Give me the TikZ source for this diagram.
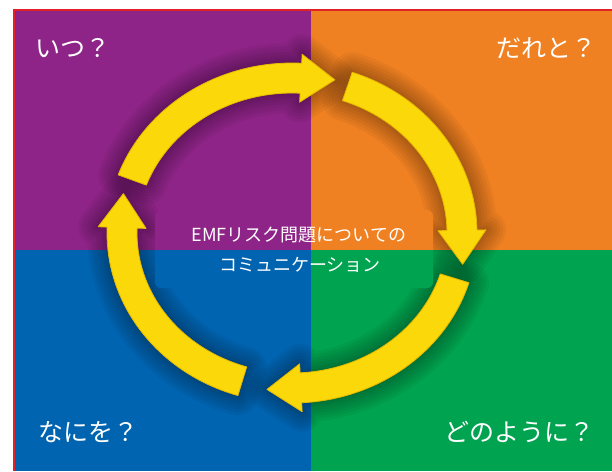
\documentclass[tikz,border=0pt]{standalone}
\usepackage{fontspec}
\newfontfamily\jp{Noto Sans CJK JP}
\definecolor{qpurple}{HTML}{8E2487}
\definecolor{qorange}{HTML}{F08122}
\definecolor{qblue}{HTML}{0064B0}
\definecolor{qgreen}{HTML}{00A34F}
\definecolor{ayellow}{HTML}{FAD80A}
\definecolor{aedge}{HTML}{E6B800}
\definecolor{frame}{HTML}{E02228}
\newcommand\ringarrow[3]{%
  \pgfmathsetmacro\tnx{1.70*sin(#2)}%
  \pgfmathsetmacro\tny{1.55*cos(#2)}%
  \pgfmathsetmacro\tnn{sqrt(\tnx*\tnx+\tny*\tny)}%
  \pgfmathsetmacro\tipx{292+170*cos(#2)+34*\tnx/\tnn}%
  \pgfmathsetmacro\tipy{233-155*sin(#2)+34*\tny/\tnn}%
  \path[#3] plot[domain=#1:#2,samples=40] ({292+185*cos(\x)},{233-170*sin(\x)})
    -- ({292+194*cos(#2)},{233-179*sin(#2)}) -- (\tipx,\tipy)
    -- ({292+146*cos(#2)},{233-131*sin(#2)})
    -- plot[domain=#2:#1,samples=40] ({292+155*cos(\x)},{233-140*sin(\x)}) -- cycle;%
}
\newcommand\allarrows[1]{%
  \ringarrow{160}{87}{#1}%
  \ringarrow{71}{1}{#1}%
  \ringarrow{-17}{-87}{#1}%
  \ringarrow{-107}{-182}{#1}%
}
\newcommand\quads{%
  \fill[qpurple] (14,10) rectangle (311,250);
  \fill[qorange] (311,10) rectangle (612,250);
  \fill[qblue] (14,250) rectangle (311,471);
  \fill[qgreen] (311,250) rectangle (612,471);
}
\tikzset{
  shadowstroke/.style={draw=black, line join=round, draw opacity=0.045, fill=none},
  arrowfill/.style={fill=ayellow, draw=aedge, line width=0.8pt, line join=round},
  label/.style={text=white, font=\jp\fontsize{25}{29}\selectfont, inner sep=0pt},
  centertext/.style={text=white, font=\jp\fontsize{18}{22}\selectfont, inner sep=0pt}
}
\begin{document}
\begin{tikzpicture}[x=1pt,y=-1pt]
\useasboundingbox (0,0) rectangle (612,471);
\fill[white] (0,0) rectangle (612,471);
\quads
% soft shadow around the arrows
\foreach \lw in {40,34,28,22,16,10,5}{\allarrows{shadowstroke, line width=\lw pt}}
% flat panel behind the centre text
\begin{scope}
  \clip[rounded corners=6pt] (155,210) rectangle (433,288);
  \quads
\end{scope}
\allarrows{arrowfill}
% frame lines
\draw[frame, line width=1.6pt] (14,471) -- (14,10) -- (612,10);
% labels
\node[label] (when) at (73,48) {いつ？};
\node[label] (who) at (546,48) {だれと？};
\node[label] (what) at (88,432) {なにを？};
\node[label] (how) at (519,432) {どのように？};
\node[centertext] (title1) at (299,235) {EMFリスク問題についての};
\node[centertext] (title2) at (300,265) {コミュニケーション};
\end{tikzpicture}
\end{document}
